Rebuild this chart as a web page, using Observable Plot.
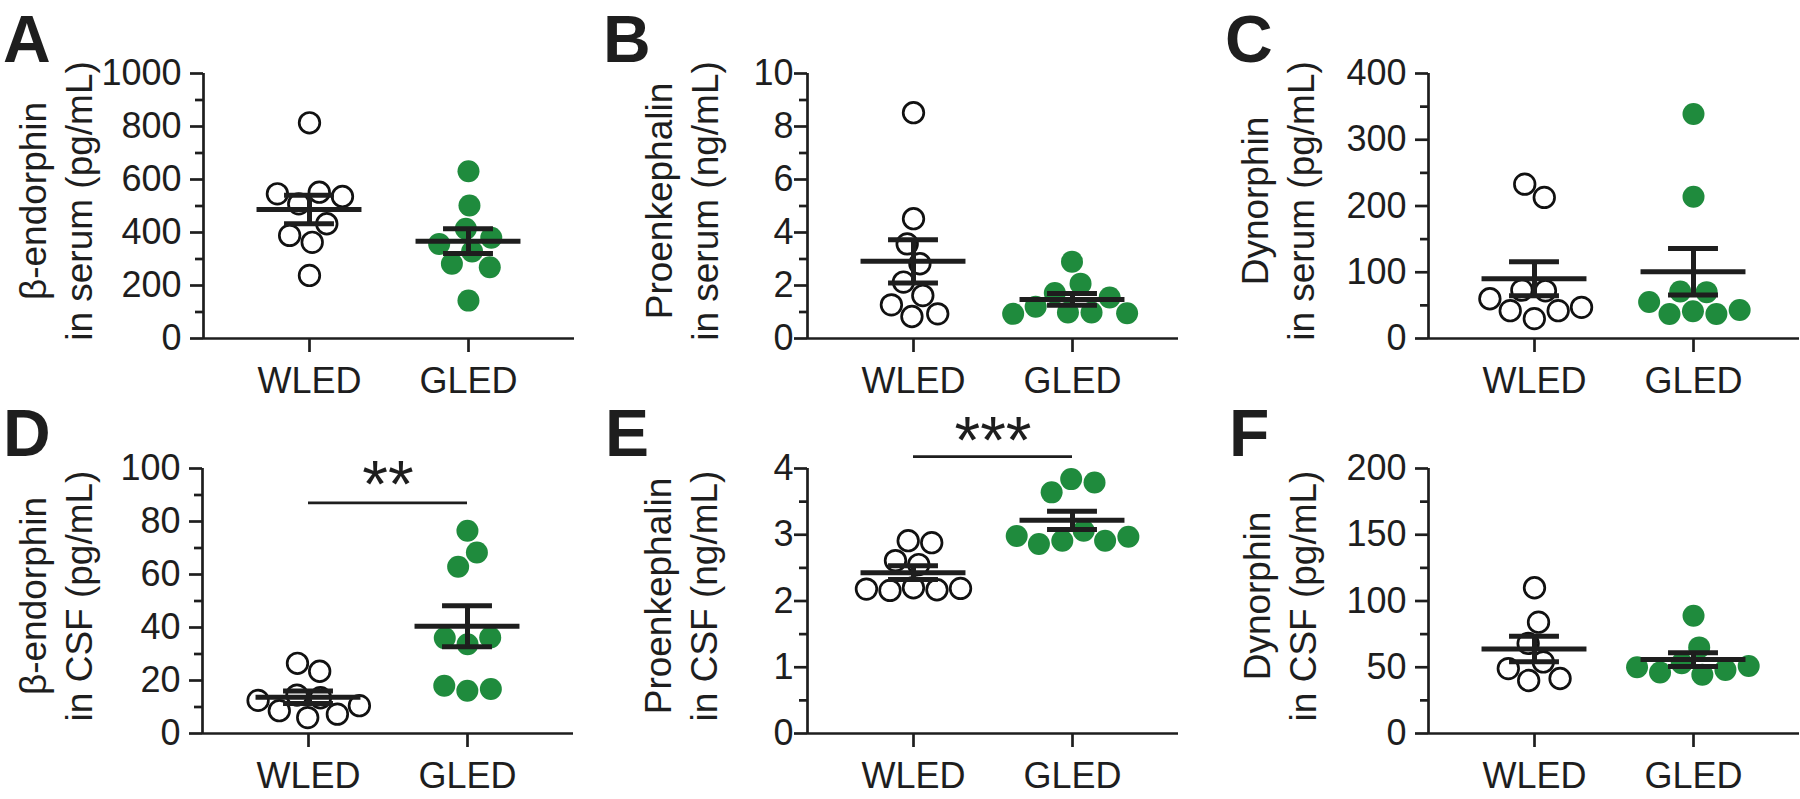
<!DOCTYPE html>
<html><head><meta charset="utf-8">
<script src="https://cdn.jsdelivr.net/npm/d3@7"></script>
<script src="https://cdn.jsdelivr.net/npm/@observablehq/plot@0.6"></script>
<style>
body{margin:0;background:#fff;}
#fig{position:relative;width:1800px;height:799px;overflow:hidden;background:#fff;font-family:"Liberation Sans",Arial,Helvetica,sans-serif;}
.panel{position:absolute;}
.letter{position:absolute;font-weight:bold;font-size:66px;line-height:1;color:#1e1e1e;}
</style></head><body><div id="fig"></div>
<script>
// ---------- data ----------
const groups = ["WLED", "GLED"];
const letters = ["A", "B", "C", "D", "E", "F"];
const yLabels = [
  "β-endorphin\nin serum (pg/mL)",
  "Proenkephalin\nin serum (ng/mL)",
  "Dynorphin\nin serum (pg/mL)",
  "β-endorphin\nin CSF (pg/mL)",
  "Proenkephalin\nin CSF (ng/mL)",
  "Dynorphin\nin CSF (pg/mL)"
];
const yMax = [1000, 10, 400, 100, 4, 200];
const majorTicks = [
  [0, 200, 400, 600, 800, 1000],
  [0, 2, 4, 6, 8, 10],
  [0, 100, 200, 300, 400],
  [0, 20, 40, 60, 80, 100],
  [0, 1, 2, 3, 4],
  [0, 50, 100, 150, 200]
];
const minorTicks = [
  [100, 300, 500, 700, 900],
  [1, 3, 5, 7, 9],
  [50, 150, 250, 350],
  [10, 30, 50, 70, 90],
  [0.5, 1.5, 2.5, 3.5],
  [25, 75, 125, 175]
];
// series values (one array per panel and group)
const aWLED = [814, 552, 546, 536, 508, 433, 389, 363, 238];
const aGLED = [631, 502, 414, 380, 357, 328, 282, 269, 143];
const bWLED = [8.52, 4.52, 3.57, 2.82, 2.13, 1.62, 1.27, 0.93, 0.83];
const bGLED = [2.9, 2.07, 1.72, 1.55, 1.2, 0.98, 0.98, 0.95, 0.93];
const cWLED = [233, 213, 73, 72, 60, 47, 42, 42, 30];
const cGLED = [339, 214, 71, 70, 55, 43, 41, 37, 37];
const dWLED = [26.5, 23.5, 14.5, 13.5, 12.5, 10.5, 8.6, 7.3, 6.0];
const dGLED = [76.5, 68.3, 62.9, 36.2, 36.0, 33.7, 18.0, 16.8, 16.1];
const eWLED = [2.91, 2.88, 2.61, 2.55, 2.2, 2.19, 2.18, 2.17, 2.16];
const eGLED = [3.84, 3.79, 3.64, 3.06, 2.98, 2.97, 2.91, 2.91, 2.86];
const fWLED = [110, 84, 68, 54, 49, 41.5, 40];
const fGLED = [88.8, 65, 53, 51, 50, 48, 46, 44.3];
const wledSeries = [aWLED, bWLED, cWLED, dWLED, eWLED, fWLED];
const gledSeries = [aGLED, bGLED, cGLED, dGLED, eGLED, fGLED];
// significance annotations (panel index, bar level, star level, label)
const sigPanel = [3, 4];
const sigBar = [87, 4.18];
const sigStars = [93.3, 4.40];
const sigLabel = ["**", "***"];

// ---------- layout / style ----------
const INK = "#1e1e1e";
const GREEN = "#1f8b3d";
const FONT = '"Liberation Sans", Arial, Helvetica, sans-serif';
const W = 600, H = 400, MT = 73, MB = 62;
const XDOM = [-2 / 3, 5 / 3];
const layout = [
  {left: 0,    top: 0,   ml: 203, mr: 26, pad: 9, ldx: -149, lx: 3,    ly: 6},
  {left: 600,  top: 0,   ml: 207, mr: 22, pad: 1, ldx: -127, lx: 603,  ly: 6},
  {left: 1200, top: 0,   ml: 228, mr: 1,  pad: 9, ldx: -152, lx: 1225, ly: 6},
  {left: 0,    top: 395, ml: 202, mr: 27, pad: 9, ldx: -148, lx: 3,    ly: 400},
  {left: 600,  top: 395, ml: 207, mr: 22, pad: 1, ldx: -128, lx: 605,  ly: 400},
  {left: 1200, top: 395, ml: 228, mr: 1,  pad: 9, ldx: -150, lx: 1229, ly: 400}
];

// beeswarm offsets (pixels) computed with a collision layout, y held fixed
function swarm(values, pxPerUnit) {
  const nodes = values.map((v, i) => ({x: (i % 2 ? 1 : -1) * (i + 1) * 0.3, fy: -v * pxPerUnit}));
  const sim = d3.forceSimulation(nodes)
    .force("x", d3.forceX(0).strength(0.06))
    .force("c", d3.forceCollide(11.8).strength(1).iterations(4))
    .stop();
  for (let k = 0; k < 400; ++k) sim.tick();
  return nodes.map(n => n.x);
}

const fig = document.getElementById("fig");

letters.forEach((letter, p) => {
  const L = layout[p];
  const innerW = W - L.ml - L.mr;
  const xPx = innerW / (XDOM[1] - XDOM[0]);
  const yPx = (H - MT - MB) / yMax[p];
  const series = [wledSeries[p], gledSeries[p]];
  const pts = series.map((vals, g) => {
    const off = swarm(vals, yPx);
    return vals.map((v, i) => ({g, v, x: g + off[i] / xPx}));
  });
  const stats = series.map((vals, g) => ({
    g,
    mean: d3.mean(vals),
    sem: d3.deviation(vals) / Math.sqrt(vals.length)
  }));
  const caps = stats.flatMap(s => [{g: s.g, y: s.mean + s.sem}, {g: s.g, y: s.mean - s.sem}]);
  const sig = sigPanel.map((sp, k) => ({sp, bar: sigBar[k], stars: sigStars[k], label: sigLabel[k]})).filter(s => s.sp === p);

  const chart = Plot.plot({
    width: W, height: H,
    marginLeft: L.ml, marginRight: L.mr, marginTop: MT, marginBottom: MB,
    x: {domain: XDOM, label: null},
    y: {domain: [0, yMax[p]], label: null},
    style: {fontFamily: FONT, fontSize: "36px", color: INK, background: "transparent", overflow: "visible"},
    marks: [
      Plot.axisY({ticks: minorTicks[p], tickSize: 8, tickFormat: () => "", strokeWidth: 2.7, stroke: INK, label: null}),
      Plot.axisY({ticks: majorTicks[p], tickSize: 13, tickPadding: L.pad, tickFormat: d => String(d), strokeWidth: 2.7, stroke: INK, fontSize: 36, fill: INK, label: null}),
      Plot.axisX({ticks: [0, 1], tickSize: 14, tickPadding: 15, tickFormat: i => groups[i], strokeWidth: 2.7, stroke: INK, fontSize: 36, fill: INK, label: null}),
      Plot.ruleX([XDOM[0]], {y1: () => 0, y2: () => yMax[p], stroke: INK, strokeWidth: 2.7}),
      Plot.ruleY([0], {stroke: INK, strokeWidth: 2.7}),
      Plot.dot(pts[0], {x: "x", y: "v", r: 10.3, fill: "none", stroke: "#111", strokeWidth: 2.7}),
      Plot.dot(pts[1], {x: "x", y: "v", r: 11, fill: GREEN, stroke: "none"}),
      Plot.ruleY(stats, {y: "mean", x1: d => d.g - 0.33, x2: d => d.g + 0.33, stroke: INK, strokeWidth: 5}),
      Plot.ruleY(caps, {y: "y", x1: d => d.g - 0.157, x2: d => d.g + 0.157, stroke: INK, strokeWidth: 5}),
      Plot.ruleX(stats, {x: "g", y1: d => d.mean - d.sem, y2: d => d.mean + d.sem, stroke: INK, strokeWidth: 5}),
      Plot.ruleY(sig, {y: "bar", x1: () => 0, x2: () => 1, stroke: INK, strokeWidth: 2.7}),
      Plot.text(sig, {x: () => 0.5, y: "stars", text: "label", fontSize: 66, fill: INK, lineAnchor: "middle"}),
      Plot.text([yLabels[p]], {text: d => d, frameAnchor: "left", dx: L.ldx, dy: -5, rotate: -90, fontSize: 37, lineHeight: 1.25, textAnchor: "middle", lineAnchor: "middle", fill: INK})
    ]
  });
  chart.classList.add("panel");
  chart.style.left = L.left + "px";
  chart.style.top = L.top + "px";
  fig.appendChild(chart);

  const lt = document.createElement("div");
  lt.className = "letter";
  lt.textContent = letter;
  lt.style.left = L.lx + "px";
  lt.style.top = L.ly + "px";
  fig.appendChild(lt);
});
</script></body></html>
